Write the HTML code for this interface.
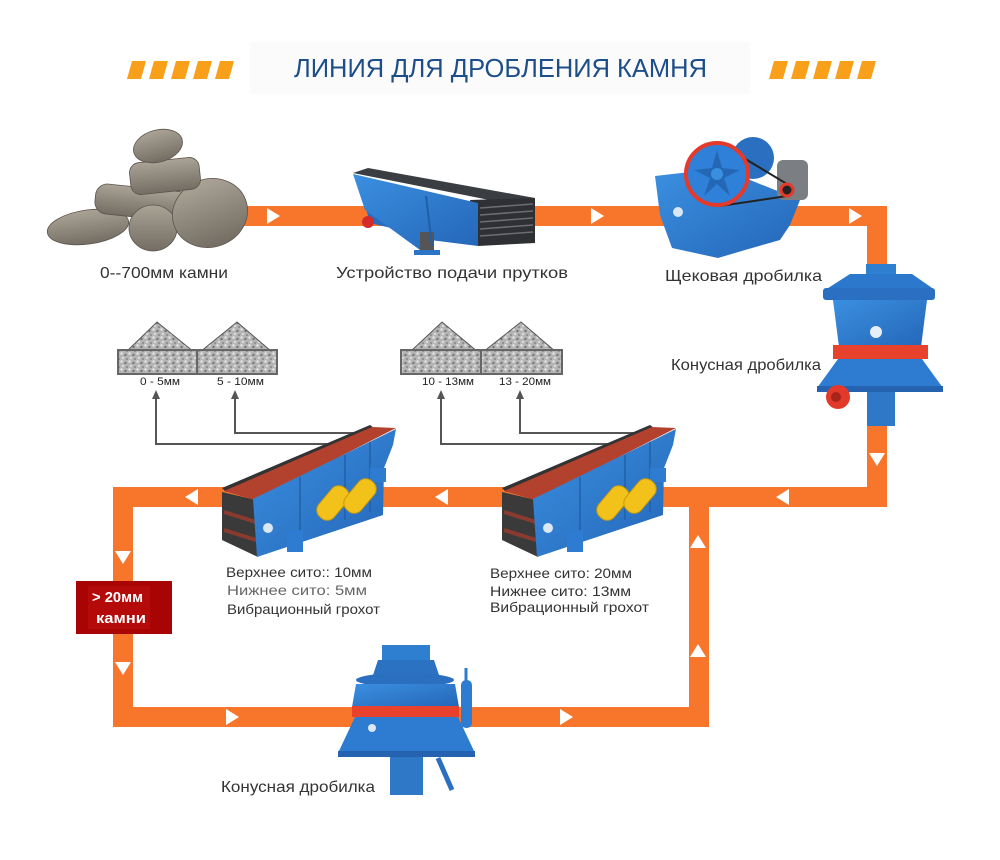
<!DOCTYPE html>
<html><head><meta charset="utf-8"><style>
html,body{margin:0;padding:0;background:#fff;}
svg{display:block;}
text{font-family:"Liberation Sans",sans-serif;}
</style></head><body>
<svg width="1000" height="860" viewBox="0 0 1000 860" xmlns="http://www.w3.org/2000/svg">
<defs>
<pattern id="grav" width="8" height="8" patternUnits="userSpaceOnUse">
<rect width="8" height="8" fill="#b4b4b4"/>
<circle cx="1.5" cy="1.5" r="1.2" fill="#e8e8e8"/>
<circle cx="5.5" cy="3" r="1.1" fill="#6e6e6e"/>
<circle cx="3" cy="6" r="1.2" fill="#dcdcdc"/>
<circle cx="7" cy="7" r="0.9" fill="#7a7a7a"/>
</pattern>
<linearGradient id="rock" x1="0" y1="0" x2="0" y2="1">
<stop offset="0" stop-color="#aaa396"/><stop offset="1" stop-color="#736d63"/>
</linearGradient>
<linearGradient id="blue" x1="0" y1="0" x2="1" y2="1">
<stop offset="0" stop-color="#3b8fe0"/><stop offset="1" stop-color="#2466b8"/>
</linearGradient>
</defs>

<!-- title -->
<rect x="250" y="42" width="500" height="52" fill="#fbfbfb"/>
<g fill="#f9a01b">
<polygon points="132,61 146,61 141,79 127,79"/>
<polygon points="154,61 168,61 163,79 149,79"/>
<polygon points="176,61 190,61 185,79 171,79"/>
<polygon points="198,61 212,61 207,79 193,79"/>
<polygon points="220,61 234,61 229,79 215,79"/>
<polygon points="774,61 788,61 783,79 769,79"/>
<polygon points="796,61 810,61 805,79 791,79"/>
<polygon points="818,61 832,61 827,79 813,79"/>
<polygon points="840,61 854,61 849,79 835,79"/>
<polygon points="862,61 876,61 871,79 857,79"/>
</g>
<text x="294" y="77" font-size="26" fill="#1d4e8a" textLength="413" lengthAdjust="spacingAndGlyphs">ЛИНИЯ ДЛЯ ДРОБЛЕНИЯ КАМНЯ</text>

<!-- orange flow -->
<g fill="#f7762c">
<rect x="240" y="206" width="647" height="20"/>
<rect x="867" y="206" width="20" height="301"/>
<rect x="113" y="487" width="774" height="20"/>
<rect x="113" y="487" width="20" height="240"/>
<rect x="113" y="707" width="596" height="20"/>
<rect x="689" y="487" width="20" height="240"/>
</g>
<g fill="#fff">
<polygon points="267,208 280,216 267,224"/>
<polygon points="591,208 604,216 591,224"/>
<polygon points="849,208 862,216 849,224"/>
<polygon points="869,453 885,453 877,466"/>
<polygon points="789,489 776,497 789,505"/>
<polygon points="448,489 435,497 448,505"/>
<polygon points="198,489 185,497 198,505"/>
<polygon points="115,551 131,551 123,564"/>
<polygon points="115,662 131,662 123,675"/>
<polygon points="226,709 239,717 226,725"/>
<polygon points="560,709 573,717 560,725"/>
<polygon points="690,548 706,548 698,535"/>
<polygon points="690,657 706,657 698,644"/>
</g>

<!-- rocks -->
<g stroke="#5a554d" stroke-width="0.8">
<ellipse cx="88" cy="227" rx="41" ry="17" fill="url(#rock)" transform="rotate(-8 88 227)"/>
<rect x="95" y="188" width="100" height="30" rx="12" fill="url(#rock)" transform="rotate(6 145 203)"/>
<ellipse cx="153" cy="228" rx="24" ry="23" fill="url(#rock)"/>
<ellipse cx="210" cy="213" rx="38" ry="34" fill="url(#rock)" transform="rotate(-20 210 213)"/>
<rect x="130" y="160" width="70" height="32" rx="10" fill="url(#rock)" transform="rotate(-6 165 176)"/>
<ellipse cx="158" cy="146" rx="25" ry="16" fill="url(#rock)" transform="rotate(-15 158 146)"/>
</g>

<!-- feeder -->
<g>
<polygon points="353,173 368,168 535,198 520,206" fill="#3a3d42"/>
<polygon points="470,200 535,198 535,243 478,246" fill="#2e3034"/>
<g stroke="#6a6d72" stroke-width="1.5">
<line x1="480" y1="208" x2="533" y2="204"/>
<line x1="480" y1="215" x2="533" y2="211"/>
<line x1="480" y1="222" x2="533" y2="218"/>
<line x1="480" y1="229" x2="533" y2="225"/>
<line x1="480" y1="236" x2="533" y2="232"/>
</g>
<polygon points="365,205 412,214 412,233 370,223" fill="#2a6cc0"/>
<polygon points="353,174 478,203 478,246 430,240 420,250 365,210" fill="url(#blue)"/>
<rect x="420" y="232" width="14" height="22" fill="#555"/>
<rect x="414" y="250" width="26" height="5" fill="#2d74c8"/>
<circle cx="368" cy="222" r="6" fill="#d42a2a"/>
<line x1="426" y1="196" x2="432" y2="246" stroke="#1f5faa" stroke-width="2"/>
</g>

<!-- jaw crusher -->
<g>
<circle cx="753" cy="158" r="21" fill="#2a6fc0"/>
<polygon points="655,176 690,172 750,180 800,200 790,225 780,240 745,250 718,258 672,248 660,215" fill="url(#blue)"/>
<rect x="777" y="160" width="31" height="40" rx="6" fill="#7b7e82"/>
<line x1="717" y1="142" x2="787" y2="184" stroke="#222" stroke-width="2"/>
<line x1="720" y1="206" x2="787" y2="196" stroke="#222" stroke-width="2"/>
<circle cx="717" cy="174" r="31" fill="#2f80d8" stroke="#e53a2b" stroke-width="4"/>
<polygon points="717,150 722,168 740,170 724,178 730,196 717,184 704,196 710,178 694,170 712,168" fill="#2468b5"/>
<circle cx="717" cy="174" r="6" fill="#3a8ee0"/>
<circle cx="787" cy="190" r="6" fill="#222" stroke="#e53a2b" stroke-width="3"/>
<circle cx="678" cy="212" r="5" fill="#dbe7f5"/>
</g>

<!-- right cone crusher -->
<g>
<rect x="866" y="264" width="30" height="12" fill="#2f7fd0"/>
<polygon points="850,274 912,274 935,290 825,290" fill="#2c78cc"/>
<rect x="823" y="288" width="112" height="12" rx="3" fill="#2a6fc2"/>
<polygon points="833,300 927,300 921,347 839,347" fill="url(#blue)"/>
<rect x="833" y="345" width="95" height="14" fill="#e8412c"/>
<polygon points="838,359 922,359 943,388 817,388" fill="#2e7cd2"/>
<rect x="817" y="386" width="126" height="6" fill="#2563b0"/>
<rect x="867" y="392" width="28" height="34" fill="#2f78c8"/>
<circle cx="838" cy="397" r="12" fill="#e23a2a"/>
<circle cx="836" cy="397" r="5" fill="#a82418"/>
<circle cx="876" cy="332" r="6" fill="#e6eef8"/>
</g>

<!-- gravel trays -->
<g stroke="#555" stroke-width="1">
<polygon points="126,352 157,322 194,352" fill="url(#grav)"/>
<polygon points="200,352 237,322 272,352" fill="url(#grav)"/>
<rect x="118" y="350" width="159" height="24" fill="url(#grav)" stroke="#666" stroke-width="2"/>
<line x1="197" y1="350" x2="197" y2="374" stroke="#666" stroke-width="2"/>
<polygon points="410,352 442,322 478,352" fill="url(#grav)"/>
<polygon points="483,352 521,322 556,352" fill="url(#grav)"/>
<rect x="401" y="350" width="161" height="24" fill="url(#grav)" stroke="#666" stroke-width="2"/>
<line x1="481" y1="350" x2="481" y2="374" stroke="#666" stroke-width="2"/>
</g>
<g font-size="11" fill="#222">
<text x="140" y="385" textLength="40" lengthAdjust="spacingAndGlyphs">0 - 5мм</text>
<text x="217" y="385" textLength="47" lengthAdjust="spacingAndGlyphs">5 - 10мм</text>
<text x="422" y="385" textLength="52" lengthAdjust="spacingAndGlyphs">10 - 13мм</text>
<text x="499" y="385" textLength="52" lengthAdjust="spacingAndGlyphs">13 - 20мм</text>
</g>

<!-- connectors -->
<g fill="none" stroke="#555" stroke-width="2">
<path d="M335 444 H156 V398"/>
<path d="M355 433 H235 V398"/>
<path d="M612 444 H441 V398"/>
<path d="M635 433 H520 V398"/>
</g>
<g fill="#555">
<polygon points="152,399 160,399 156,390"/>
<polygon points="231,399 239,399 235,390"/>
<polygon points="437,399 445,399 441,390"/>
<polygon points="516,399 524,399 520,390"/>
</g>

<!-- vibrating screens -->
<g id="scr">
<polygon points="222,492 256,500 258,557 222,540" fill="#3a3a3a"/>
<line x1="224" y1="512" x2="256" y2="522" stroke="#8a3a2e" stroke-width="4"/>
<line x1="224" y1="530" x2="256" y2="540" stroke="#8a3a2e" stroke-width="4"/>
<polygon points="222,488 370,425 374,428 226,492" fill="#333"/>
<polygon points="224,491 372,427 396,428 255,500" fill="#b2412e"/>
<polygon points="253,499 396,429 393,445 384,468 383,515 257,557" fill="url(#blue)"/>
<g stroke="#2260aa" stroke-width="1.5">
<line x1="300" y1="477" x2="300" y2="538"/>
<line x1="345" y1="455" x2="345" y2="520"/>
<line x1="370" y1="442" x2="370" y2="512"/>
</g>
<rect x="287" y="530" width="16" height="22" fill="#2e7cd2"/>
<rect x="370" y="468" width="16" height="14" fill="#2e7cd2"/>
<rect x="323" y="484" width="20" height="38" rx="9" fill="#f2c21a" stroke="#c99a0a" transform="rotate(40 333 503)"/>
<rect x="350" y="477" width="20" height="38" rx="9" fill="#f2c21a" stroke="#c99a0a" transform="rotate(40 360 496)"/>
<circle cx="268" cy="528" r="5" fill="#dbe7f5"/>
</g>
<use href="#scr" transform="translate(280,0)"/>

<!-- bottom cone crusher -->
<g>
<rect x="382" y="645" width="48" height="16" fill="#2f7fd0"/>
<polygon points="378,660 434,660 440,678 372,678" fill="#2b72c2"/>
<ellipse cx="405" cy="680" rx="49" ry="7" fill="#2a6fc0"/>
<polygon points="356,684 455,684 459,707 352,707" fill="url(#blue)"/>
<rect x="352" y="706" width="107" height="11" fill="#e8412c"/>
<polygon points="355,717 458,717 475,753 338,753" fill="#2e7cd2"/>
<rect x="338" y="751" width="137" height="6" fill="#2563b0"/>
<rect x="390" y="757" width="33" height="38" fill="#2f78c8"/>
<rect x="461" y="680" width="11" height="48" rx="5" fill="#2e7cd2"/>
<line x1="466" y1="668" x2="466" y2="682" stroke="#2e7cd2" stroke-width="3"/>
<line x1="438" y1="758" x2="452" y2="790" stroke="#2a6fc0" stroke-width="5"/>
<circle cx="372" cy="728" r="4" fill="#dbe7f5"/>
</g>

<!-- red box -->
<rect x="76" y="581" width="96" height="53" fill="#a80404"/>
<rect x="88" y="586" width="62" height="43" fill="#b40a0a"/>
<g font-size="15" fill="#fff" font-weight="bold">
<text x="92" y="602" textLength="51" lengthAdjust="spacingAndGlyphs">&gt; 20мм</text>
<text x="96" y="623" textLength="50" lengthAdjust="spacingAndGlyphs">камни</text>
</g>

<!-- labels -->
<g font-size="16" fill="#333">
<text x="100" y="278" textLength="128" lengthAdjust="spacingAndGlyphs">0--700мм камни</text>
<text x="336" y="278" textLength="232" lengthAdjust="spacingAndGlyphs">Устройство подачи прутков</text>
<text x="665" y="281" textLength="157" lengthAdjust="spacingAndGlyphs">Щековая дробилка</text>
<text x="671" y="370" textLength="150" lengthAdjust="spacingAndGlyphs">Конусная дробилка</text>
<text x="221" y="792" textLength="154" lengthAdjust="spacingAndGlyphs">Конусная дробилка</text>
</g>
<g font-size="14" fill="#333">
<text x="226" y="577" textLength="146" lengthAdjust="spacingAndGlyphs">Верхнее сито:: 10мм</text>
<text x="227" y="595" textLength="140" lengthAdjust="spacingAndGlyphs" fill="#666">Нижнее сито: 5мм</text>
<text x="227" y="614" textLength="153" lengthAdjust="spacingAndGlyphs">Вибрационный грохот</text>
<text x="490" y="578" textLength="142" lengthAdjust="spacingAndGlyphs">Верхнее сито: 20мм</text>
<text x="490" y="596" textLength="141" lengthAdjust="spacingAndGlyphs">Нижнее сито: 13мм</text>
<text x="490" y="612" textLength="159" lengthAdjust="spacingAndGlyphs">Вибрационный грохот</text>
</g>
</svg>
</body></html>
